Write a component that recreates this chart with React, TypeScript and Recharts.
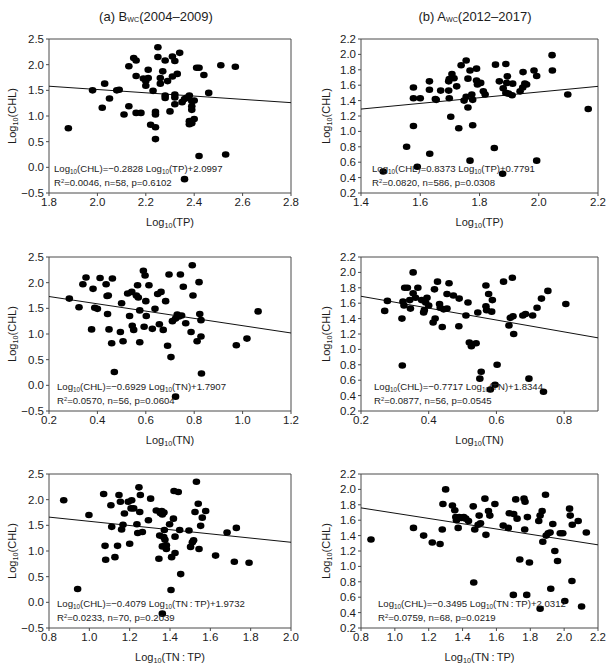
import React from "react";
import {
  ScatterChart,
  Scatter,
  XAxis,
  YAxis,
  ReferenceArea,
  ReferenceLine,
} from "recharts";

const FONT = '"Liberation Sans", Arial, Helvetica, sans-serif';
const INK = "#1c1c1c";
const FRAME = "#4a4a4a";

// tick labels
const bwcYTicks = [-0.5, 0, 0.5, 1, 1.5, 2, 2.5];
const awcYTicks = [0.2, 0.4, 0.6, 0.8, 1, 1.2, 1.4, 1.6, 1.8, 2, 2.2];
const bwcTpXTicks = [1.8, 2, 2.2, 2.4, 2.6, 2.8];
const awcTpXTicks = [1.4, 1.6, 1.8, 2, 2.2];
const bwcTnXTicks = [0.2, 0.4, 0.6, 0.8, 1, 1.2];
const awcTnXTicks = [0.2, 0.4, 0.6, 0.8];
const bwcRatioXTicks = [0.8, 1, 1.2, 1.4, 1.6, 1.8, 2];
const awcRatioXTicks = [0.8, 1, 1.2, 1.4, 1.6, 1.8, 2, 2.2];

// Bwc 2004-2009, log TP vs log CHL
const bwcTp = [
  [1.88, 0.76], [1.98, 1.5], [2.03, 1.63], [2.05, 1.34], [2.02, 1.16], [2.08, 1.5],
  [2.09, 1.51], [2.11, 1.03], [2.13, 1.19], [2.13, 1.97], [2.15, 2.13], [2.16, 2.08],
  [2.16, 1.78], [2.16, 1.06], [2.18, 1.06], [2.19, 1.73], [2.21, 1.9], [2.2, 1.68],
  [2.21, 1.74], [2.2, 1.59], [2.23, 1.49], [2.22, 0.83], [2.24, 0.78], [2.24, 0.55],
  [2.24, 1.08], [2.24, 1.03], [2.25, 2.34], [2.25, 2.15], [2.26, 1.74], [2.26, 1.63],
  [2.27, 1.87], [2.28, 2.08], [2.29, 1.68], [2.28, 1.4], [2.28, 1.35], [2.3, 1.09],
  [2.31, 2.16], [2.32, 2.07], [2.31, 1.77], [2.33, 1.82], [2.32, 1.42], [2.32, 1.36],
  [2.32, 1.23], [2.34, 2.23], [2.35, 1.27], [2.36, 1.33], [2.37, 1.36], [2.38, 1.4],
  [2.39, 1.29], [2.39, 1.19], [2.39, 1.12], [2.4, 0.94], [2.38, 0.84], [2.38, 0.9],
  [2.4, 1.3], [2.41, 1.94], [2.42, 1.94], [2.42, 0.22], [2.44, 1.8], [2.46, 1.45],
  [2.51, 1.99], [2.53, 0.25], [2.57, 1.96], [2.36, -0.23], [2.39, 0.86],
];

// Awc 2012-2017, log TP vs log CHL
const awcTp = [
  [1.475, 0.48], [1.554, 0.8], [1.577, 1.57], [1.577, 1.43], [1.577, 1.07], [1.6, 1.43],
  [1.59, 0.54], [1.631, 1.65], [1.631, 1.54], [1.632, 0.71], [1.651, 1.42], [1.654, 1.41],
  [1.669, 1.53], [1.696, 1.65], [1.696, 1.53], [1.698, 1.43], [1.703, 1.19], [1.698, 1.68],
  [1.707, 1.745], [1.714, 1.69], [1.723, 1.585], [1.73, 1.04], [1.738, 1.86], [1.755, 1.92],
  [1.761, 1.685], [1.748, 1.4], [1.755, 1.45], [1.761, 1.31], [1.768, 1.79], [1.774, 1.48],
  [1.777, 1.41], [1.777, 1.08], [1.79, 1.815], [1.79, 1.66], [1.793, 1.61], [1.804, 1.63],
  [1.813, 1.52], [1.819, 1.48], [1.768, 0.62], [1.85, 0.785], [1.854, 1.867], [1.867, 1.65],
  [1.88, 1.56], [1.889, 1.875], [1.894, 1.715], [1.892, 1.63], [1.889, 1.5], [1.898, 1.49],
  [1.91, 1.47], [1.912, 1.62], [1.878, 0.45], [1.937, 1.52], [1.946, 1.57], [1.953, 1.62],
  [1.959, 1.61], [1.947, 1.77], [1.984, 1.79], [1.993, 1.72], [1.993, 0.62], [2.045, 1.99],
  [2.046, 1.79], [2.098, 1.48], [2.167, 1.29],
];

// Bwc, log TN vs log CHL
const bwcTn = [
  [0.284, 1.69], [0.324, 1.52], [0.34, 1.97], [0.353, 2.1], [0.376, 1.09], [0.382, 1.88],
  [0.389, 1.51], [0.4, 1.49], [0.411, 2.09], [0.436, 1.97], [0.442, 1.39], [0.44, 1.74],
  [0.445, 1.75], [0.462, 2.08], [0.448, 1.09], [0.459, 0.82], [0.47, 0.26], [0.495, 1.04],
  [0.5, 1.6], [0.506, 0.86], [0.525, 1.79], [0.533, 1.35], [0.542, 1.82], [0.544, 1.16],
  [0.55, 1.08], [0.561, 1.75], [0.566, 1.95], [0.569, 1.71], [0.575, 1.46], [0.575, 0.84],
  [0.59, 2.23], [0.597, 2.14], [0.6, 1.64], [0.602, 1.35], [0.593, 1.14], [0.613, 1.95],
  [0.627, 1.1], [0.638, 1.49], [0.649, 1.78], [0.663, 1.82], [0.656, 1.19], [0.672, 1.08],
  [0.682, 1.64], [0.696, 2.16], [0.69, 0.77], [0.704, 0.55], [0.723, 1.3], [0.73, 1.38],
  [0.737, 1.34], [0.743, 2.16], [0.755, 1.92], [0.748, 1.36], [0.765, 1.21], [0.787, 1.04],
  [0.792, 2.34], [0.795, 1.75], [0.82, 2.01], [0.823, 1.39], [0.828, 1.27], [0.828, 0.95],
  [0.812, 0.86], [0.83, 0.23], [0.723, -0.22], [0.974, 0.78], [1.018, 0.91], [1.064, 1.44],
  [0.71, 1.25],
];

// Awc, log TN vs log CHL
const awcTn = [
  [0.27, 1.5], [0.278, 1.63], [0.321, 1.4], [0.322, 0.79], [0.324, 1.62], [0.327, 1.57],
  [0.329, 1.8], [0.337, 1.8], [0.344, 1.64], [0.346, 1.53], [0.354, 2.0], [0.354, 1.73],
  [0.361, 1.67], [0.368, 1.8], [0.379, 1.64], [0.385, 1.48], [0.387, 1.51], [0.391, 1.61],
  [0.395, 1.67], [0.4, 1.57], [0.413, 1.35], [0.419, 1.4], [0.417, 1.78], [0.426, 1.88],
  [0.432, 1.59], [0.44, 1.29], [0.444, 1.52], [0.454, 1.53], [0.454, 1.72], [0.46, 1.86],
  [0.473, 1.7], [0.49, 1.66], [0.489, 1.3], [0.51, 1.44], [0.516, 1.61], [0.52, 1.09],
  [0.526, 1.04], [0.54, 1.08], [0.545, 1.48], [0.551, 0.62], [0.555, 0.71], [0.569, 1.83],
  [0.569, 1.56], [0.577, 1.72], [0.571, 1.51], [0.586, 1.49], [0.588, 1.64], [0.596, 0.54],
  [0.582, 0.48], [0.602, 0.8], [0.621, 1.88], [0.637, 1.31], [0.641, 1.41], [0.647, 1.93],
  [0.649, 1.43], [0.651, 1.2], [0.678, 1.44], [0.686, 1.46], [0.696, 0.62], [0.707, 1.44],
  [0.72, 1.54], [0.733, 1.66], [0.739, 0.45], [0.752, 1.76], [0.805, 1.59], [0.434, 1.54],
];

// Bwc, log TN:TP vs log CHL
const bwcRatio = [
  [0.873, 1.99], [0.942, 0.26], [0.998, 1.7], [1.071, 2.11], [1.078, 1.1], [1.081, 0.83],
  [1.107, 1.89], [1.111, 1.47], [1.127, 0.88], [1.14, 1.1], [1.147, 2.09], [1.154, 1.96],
  [1.16, 1.42], [1.167, 1.51], [1.174, 1.73], [1.193, 1.96], [1.2, 1.14], [1.21, 1.99],
  [1.207, 1.83], [1.22, 1.83], [1.236, 1.52], [1.24, 1.35], [1.246, 2.24], [1.25, 1.76],
  [1.253, 2.09], [1.263, 1.37], [1.293, 1.6], [1.304, 2.02], [1.332, 1.79], [1.345, 0.85],
  [1.349, 1.3], [1.352, 1.74], [1.359, 1.78], [1.362, 1.71], [1.37, 1.75], [1.362, 1.09],
  [1.369, 1.27], [1.375, 1.22], [1.382, 1.11], [1.382, 1.04], [1.372, 1.41], [1.398, 1.52],
  [1.405, 0.24], [1.408, 0.88], [1.417, 1.63], [1.425, 1.28], [1.425, 0.96], [1.362, -0.22],
  [1.42, 2.17], [1.441, 2.15], [1.448, 1.41], [1.453, 0.55], [1.494, 1.4], [1.502, 1.08],
  [1.511, 1.17], [1.517, 1.21], [1.531, 2.35], [1.54, 1.92], [1.524, 1.76], [1.544, 1.04],
  [1.552, 1.49], [1.56, 1.65], [1.577, 1.78], [1.626, 0.91], [1.683, 1.36], [1.719, 0.79],
  [1.729, 1.45], [1.792, 0.77],
];

// Awc, log TN:TP vs log CHL
const awcRatio = [
  [0.859, 1.35], [1.11, 1.5], [1.17, 1.4], [1.221, 1.31], [1.267, 1.29], [1.28, 1.48],
  [1.284, 1.81], [1.3, 2.0], [1.34, 1.79], [1.354, 1.73], [1.36, 1.64], [1.364, 1.6],
  [1.374, 1.5], [1.38, 1.64], [1.393, 1.63], [1.407, 1.64], [1.419, 1.62], [1.435, 1.59],
  [1.463, 1.78], [1.466, 0.79], [1.472, 1.48], [1.492, 1.54], [1.498, 1.66], [1.506, 1.56],
  [1.532, 1.88], [1.538, 1.41], [1.553, 1.72], [1.561, 1.66], [1.591, 1.81], [1.64, 1.53],
  [1.67, 1.5], [1.676, 1.69], [1.7, 0.63], [1.702, 1.68], [1.714, 1.87], [1.722, 1.62],
  [1.738, 1.09], [1.763, 1.88], [1.769, 1.84], [1.767, 1.48], [1.779, 0.63], [1.783, 1.64],
  [1.795, 1.05], [1.85, 1.59], [1.858, 1.66], [1.87, 1.72], [1.874, 1.32], [1.89, 1.93],
  [1.894, 1.4], [1.906, 1.43], [1.917, 1.44], [1.933, 1.55], [1.921, 0.71], [1.945, 1.2],
  [1.961, 1.07], [1.977, 1.43], [1.992, 1.43], [2.004, 0.55], [1.858, 0.45], [2.032, 1.75],
  [2.036, 1.66], [2.048, 1.54], [2.046, 0.81], [2.083, 1.59], [2.103, 0.48], [2.131, 1.44],
];

// fitted regression lines (end points)
const bwcTpFit = [[1.8, 1.58], [2.8, 1.26]];
const awcTpFit = [[1.4, 1.29], [2.2, 1.585]];
const bwcTnFit = [[0.2, 1.73], [1.2, 1.02]];
const awcTnFit = [[0.2, 1.69], [0.9, 1.15]];
const bwcRatioFit = [[0.8, 1.66], [2.0, 1.17]];
const awcRatioFit = [[0.8, 1.76], [2.2, 1.28]];

const sub = (t: string) => (
  <span style={{ fontSize: "0.66em", position: "relative", top: "0.28em" }}>{t}</span>
);
const Log = () => <>Log{sub("10")}</>;

const fmt = (v: number) => (v < 0 ? "\u2212" : "") + Math.abs(v).toFixed(1);

const Dot = (props: any) => {
  const { cx, cy } = props;
  if (cx == null || cy == null) return <g />;
  return <ellipse cx={cx} cy={cy} rx={3.8} ry={3.3} fill="#000" />;
};

interface PanelProps {
  left: number;
  plotLeft: number;
  plotTop: number;
  plotWidth: number;
  points: number[][];
  fit: number[][];
  xDomain: [number, number];
  xTicks: number[];
  yDomain: [number, number];
  yTicks: number[];
  xName: React.ReactNode;
  eq: React.ReactNode;
  stats: React.ReactNode;
  textDx: number;
  yLabelX: number;
}

const PLOT_H = 154;

function Panel(p: PanelProps) {
  const data = p.points.map(([x, y]) => ({ x, y }));
  const chartW = p.plotLeft - p.left + p.plotWidth + 14;
  return (
    <>
      <div style={{ position: "absolute", left: p.left, top: p.plotTop - 10 }}>
        <ScatterChart
          width={chartW}
          height={10 + PLOT_H + 30}
          margin={{ top: 10, right: 14, bottom: 0, left: p.plotLeft - p.left - 40 }}
        >
          <XAxis
            type="number"
            dataKey="x"
            domain={p.xDomain}
            ticks={p.xTicks}
            interval={0}
            allowDataOverflow
            tickFormatter={fmt}
            axisLine={false}
            tickLine={{ stroke: FRAME }}
            tickSize={3}
            tickMargin={2}
            height={30}
            tick={{ fontSize: 11.5, fill: INK, fontFamily: FONT }}
          />
          <YAxis
            type="number"
            dataKey="y"
            domain={p.yDomain}
            ticks={p.yTicks}
            interval={0}
            allowDataOverflow
            tickFormatter={fmt}
            axisLine={false}
            tickLine={{ stroke: FRAME }}
            tickSize={3}
            tickMargin={2}
            width={40}
            tick={{ fontSize: 11.5, fill: INK, fontFamily: FONT }}
          />
          <ReferenceArea
            x1={p.xDomain[0]}
            x2={p.xDomain[1]}
            y1={p.yDomain[0]}
            y2={p.yDomain[1]}
            fill="none"
            stroke={FRAME}
            strokeWidth={1}
          />
          <ReferenceLine
            segment={[
              { x: p.fit[0][0], y: p.fit[0][1] },
              { x: p.fit[1][0], y: p.fit[1][1] },
            ]}
            stroke="#111"
            strokeWidth={1}
          />
          <Scatter data={data} shape={Dot} isAnimationActive={false} />
        </ScatterChart>
      </div>
      <div
        style={{
          position: "absolute",
          left: p.plotLeft + p.textDx,
          top: p.plotTop + 123,
          fontSize: 9.6,
          lineHeight: "13px",
          color: INK,
          whiteSpace: "nowrap",
        }}
      >
        <div>{p.eq}</div>
        <div>{p.stats}</div>
      </div>
      <div
        style={{
          position: "absolute",
          left: p.yLabelX,
          top: p.plotTop + PLOT_H / 2,
          transform: "translate(-50%, -50%) rotate(-90deg)",
          fontSize: 11,
          color: INK,
          whiteSpace: "nowrap",
        }}
      >
        <Log />(CHL)
      </div>
      <div
        style={{
          position: "absolute",
          left: p.plotLeft + p.plotWidth / 2,
          top: p.plotTop + PLOT_H + 29,
          transform: "translate(-50%, -50%)",
          fontSize: 11,
          color: INK,
          whiteSpace: "nowrap",
        }}
      >
        {p.xName}
      </div>
    </>
  );
}

const R2 = (r: string, n: string, pv: string) => (
  <>
    R<span style={{ fontSize: "0.6em", position: "relative", top: "-0.5em" }}>2</span>={r}, n={n}, p={pv}
  </>
);

const colA = { left: 0, plotLeft: 49, plotWidth: 242, yLabelX: 12 };
const colB = { left: 306, plotLeft: 361, plotWidth: 237, yLabelX: 326 };
const RATIO = "TN\u2009:\u2009TP";

export default function App() {
  return (
    <div
      style={{
        position: "absolute",
        left: 0,
        top: 0,
        width: 613,
        height: 665,
        background: "#fff",
        fontFamily: FONT,
        overflow: "hidden",
      }}
    >
      <div style={{ position: "absolute", left: 156, top: 16, transform: "translate(-50%, -50%)", fontSize: 13, color: INK, whiteSpace: "nowrap" }}>
        (a) B<span style={{ fontSize: "0.55em", position: "relative", top: "0.15em" }}>WC</span>(2004–2009)
      </div>
      <div style={{ position: "absolute", left: 475, top: 16, transform: "translate(-50%, -50%)", fontSize: 13, color: INK, whiteSpace: "nowrap" }}>
        (b) A<span style={{ fontSize: "0.55em", position: "relative", top: "0.15em" }}>WC</span>(2012–2017)
      </div>

      <Panel
        {...colA}
        plotTop={39}
        points={bwcTp}
        fit={bwcTpFit}
        xDomain={[1.8, 2.8]}
        xTicks={bwcTpXTicks}
        yDomain={[-0.5, 2.5]}
        yTicks={bwcYTicks}
        xName={<><Log />(TP)</>}
        eq={<><Log />(CHL)=−0.2828 <Log />(TP)+2.0997</>}
        stats={R2("0.0046", "58", "0.6102")}
        textDx={5}
      />
      <Panel
        {...colB}
        plotTop={39}
        points={awcTp}
        fit={awcTpFit}
        xDomain={[1.4, 2.2]}
        xTicks={awcTpXTicks}
        yDomain={[0.2, 2.2]}
        yTicks={awcYTicks}
        xName={<><Log />(TP)</>}
        eq={<><Log />(CHL)=0.8373 <Log />(TP)+0.7791</>}
        stats={R2("0.0820", "586", "0.0308")}
        textDx={11}
      />
      <Panel
        {...colA}
        plotTop={257}
        points={bwcTn}
        fit={bwcTnFit}
        xDomain={[0.2, 1.2]}
        xTicks={bwcTnXTicks}
        yDomain={[-0.5, 2.5]}
        yTicks={bwcYTicks}
        xName={<><Log />(TN)</>}
        eq={<><Log />(CHL)=−0.6929 <Log />(TN)+1.7907</>}
        stats={R2("0.0570", "56", "0.0604")}
        textDx={8}
      />
      <Panel
        {...colB}
        plotTop={257}
        points={awcTn}
        fit={awcTnFit}
        xDomain={[0.2, 0.9]}
        xTicks={awcTnXTicks}
        yDomain={[0.2, 2.2]}
        yTicks={awcYTicks}
        xName={<><Log />(TN)</>}
        eq={<><Log />(CHL)=−0.7717 <Log />(TN)+1.8344</>}
        stats={R2("0.0877", "56", "0.0545")}
        textDx={13}
      />
      <Panel
        {...colA}
        plotTop={474}
        points={bwcRatio}
        fit={bwcRatioFit}
        xDomain={[0.8, 2.0]}
        xTicks={bwcRatioXTicks}
        yDomain={[-0.5, 2.5]}
        yTicks={bwcYTicks}
        xName={<><Log />({RATIO})</>}
        eq={<><Log />(CHL)=−0.4079 <Log />({RATIO})+1.9732</>}
        stats={R2("0.0233", "70", "0.2039")}
        textDx={8}
      />
      <Panel
        {...colB}
        plotTop={474}
        points={awcRatio}
        fit={awcRatioFit}
        xDomain={[0.8, 2.2]}
        xTicks={awcRatioXTicks}
        yDomain={[0.2, 2.2]}
        yTicks={awcYTicks}
        xName={<><Log />({RATIO})</>}
        eq={<><Log />(CHL)=−0.3495 <Log />({RATIO})+2.0312</>}
        stats={R2("0.0759", "68", "0.0219")}
        textDx={17}
      />
    </div>
  );
}
